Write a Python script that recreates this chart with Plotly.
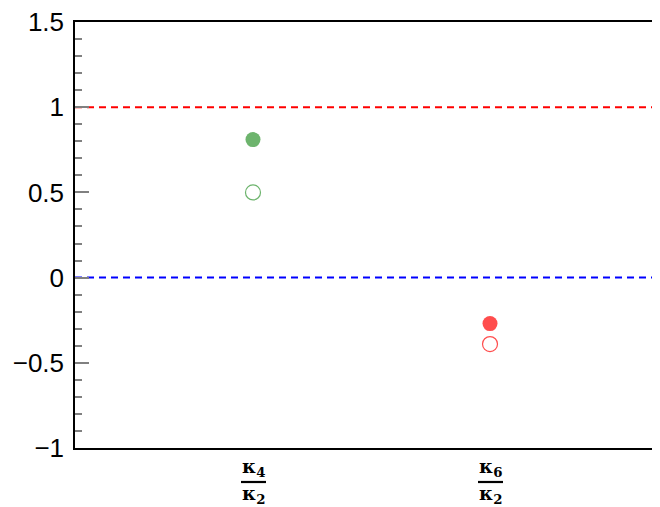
import plotly.graph_objects as go

# ---- data ----
categories = [1, 2]                      # category positions on x
numerators = ["κ<sub>4</sub>", "κ<sub>6</sub>"]
denominators = ["κ<sub>2</sub>", "κ<sub>2</sub>"]
filled_values = [0.81, -0.27]
open_values = [0.50, -0.39]
point_colors = ["#6db46d", "#ff4d4d"]
ref_values = [1.0, 0.0]
ref_colors = ["#ff0000", "#0000ff"]
y_ticks = [-1, -0.5, 0, 0.5, 1, 1.5]
y_ticktext = ["−1", "−0.5", "0", "0.5", "1", "1.5"]

fig = go.Figure()

fig.add_trace(go.Scatter(
    x=categories, y=filled_values, mode="markers",
    marker=dict(symbol="circle", size=15, color=point_colors, line=dict(width=0)),
    showlegend=False, hoverinfo="skip"))

fig.add_trace(go.Scatter(
    x=categories, y=open_values, mode="markers",
    marker=dict(symbol="circle-open", size=15, color=point_colors, line=dict(width=1.2)),
    showlegend=False, hoverinfo="skip"))

for v, c in zip(ref_values, ref_colors):
    fig.add_shape(type="line", xref="paper", x0=0, x1=1, yref="y", y0=v, y1=v,
                  line=dict(color=c, width=2, dash="7px,5px"), layer="below")

# fraction-style category labels
lab_font = dict(family="DejaVu Serif", size=19, color="black")
for cx, num, den in zip(categories, numerators, denominators):
    fig.add_annotation(x=cx, xref="x", y=0, yref="paper", yanchor="bottom",
                       text="<b>" + num + "</b>", showarrow=False, yshift=-34,
                       xshift=1, font=lab_font)
    fig.add_annotation(x=cx, xref="x", y=0, yref="paper", yanchor="top",
                       text="<b>" + den + "</b>", showarrow=False, yshift=-32,
                       xshift=1, font=lab_font)
    fig.add_shape(type="line", xref="x", xsizemode="pixel", xanchor=cx, x0=-12, x1=13,
                  yref="paper", ysizemode="pixel", yanchor=0, y0=-34, y1=-34,
                  line=dict(color="black", width=2.2))

# page body has an 8px margin, so the plot sits at (75, 22) in the window
fig.update_layout(
    width=660, height=507,
    margin=dict(l=67, r=0, t=14, b=67, autoexpand=False),
    paper_bgcolor="white", plot_bgcolor="white",
    font=dict(family="Liberation Sans, Arial", size=26, color="black"),
    xaxis=dict(range=[0.249, 2.751], showgrid=False, zeroline=False, automargin=False,
               showline=True, mirror=True, linecolor="black", linewidth=1.5,
               ticks="", showticklabels=False),
    yaxis=dict(range=[-1, 1.5], showgrid=False, zeroline=False, automargin=False,
               showline=True, linecolor="black", linewidth=1.5,
               tickvals=y_ticks, ticktext=y_ticktext, ticklabeloverflow="allow",
               ticks="inside", ticklen=14, tickwidth=1.5, tickcolor="#808080",
               ticklabelstandoff=4,
               minor=dict(dtick=0.1, ticks="inside", ticklen=7, tickwidth=1.5,
                          tickcolor="#808080", showgrid=False)),
    yaxis2=dict(range=[-1, 1.5], overlaying="y", side="right", showgrid=False,
                zeroline=False, showline=False, tickvals=[-0.5, 0, 0.5, 1],
                automargin=False,
                ticks="inside", ticklen=14, tickwidth=1.5, tickcolor="#808080",
                showticklabels=False),
)

fig.write_html("out.html")
